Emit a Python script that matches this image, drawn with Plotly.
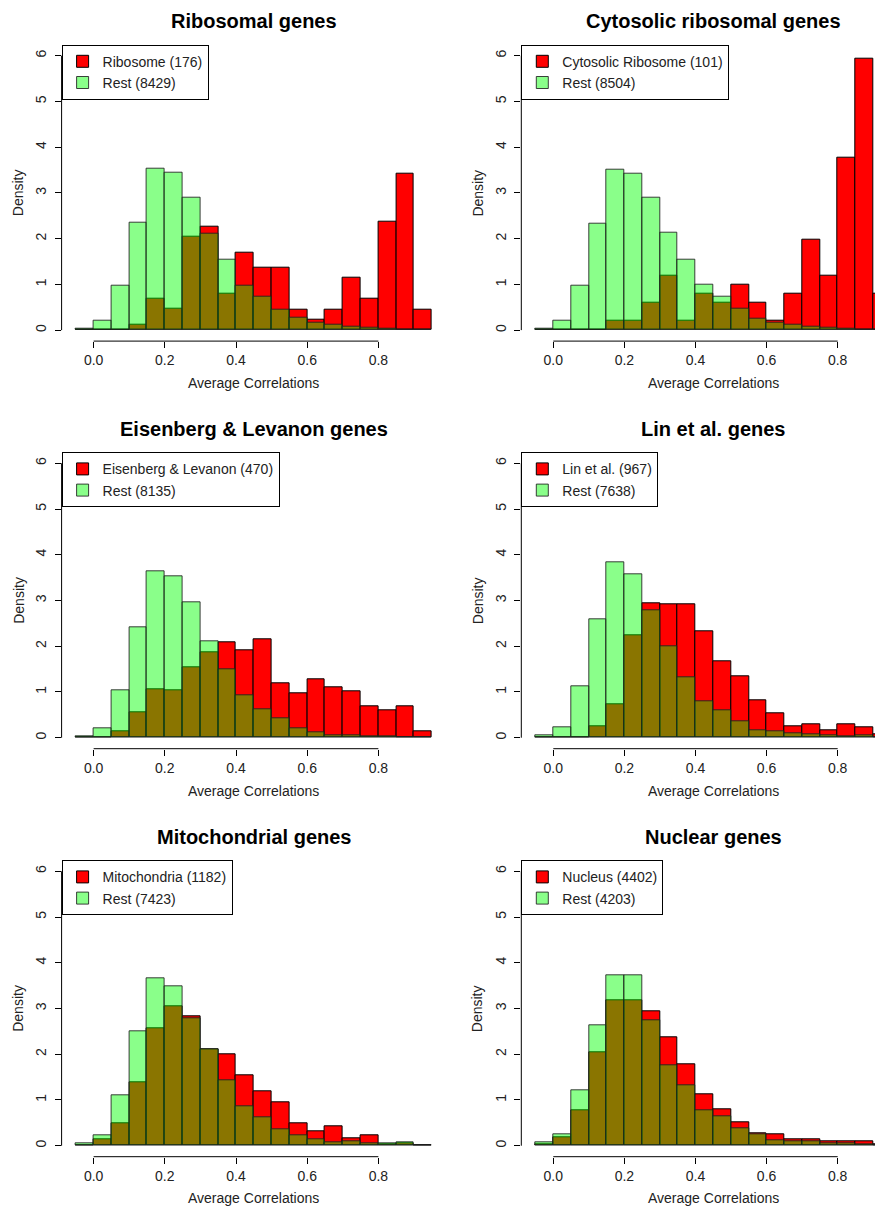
import plotly.graph_objects as go

# ---------------- data ----------------
bin_edges = [-0.05, 0.0, 0.05, 0.10, 0.15, 0.20, 0.25, 0.30, 0.35, 0.40, 0.45,
             0.50, 0.55, 0.60, 0.65, 0.70, 0.75, 0.80, 0.85, 0.90, 0.95]

titles = ["Ribosomal genes", "Cytosolic ribosomal genes",
          "Eisenberg & Levanon genes", "Lin et al. genes",
          "Mitochondrial genes", "Nuclear genes"]
group_labels = ["Ribosome (176)", "Cytosolic Ribosome (101)",
                "Eisenberg & Levanon (470)", "Lin et al. (967)",
                "Mitochondria (1182)", "Nucleus (4402)"]
rest_labels = ["Rest (8429)", "Rest (8504)", "Rest (8135)",
               "Rest (7638)", "Rest (7423)", "Rest (4203)"]

ribosome_density = [0, 0, 0, 0.11, 0.68, 0.46, 2.05, 2.27, 0.80, 1.70,
                    1.36, 1.36, 0.45, 0.23, 0.45, 1.14, 0.68, 2.38, 3.41, 0.45]
ribosome_rest = [0.04, 0.20, 0.97, 2.35, 3.53, 3.45, 2.89, 2.10, 1.54, 0.98,
                 0.73, 0.45, 0.27, 0.17, 0.12, 0.08, 0.05, 0.03, 0.015, 0.005]

cyto_density = [0, 0, 0, 0, 0.20, 0.20, 0.59, 1.19, 0.20, 0.79,
                0.59, 0.99, 0.59, 0.20, 0.79, 1.98, 1.19, 3.76, 5.94, 0.79]
cyto_rest = [0.04, 0.20, 0.97, 2.33, 3.51, 3.43, 2.89, 2.12, 1.55, 1.00,
             0.74, 0.47, 0.26, 0.17, 0.11, 0.07, 0.05, 0.03, 0.015, 0.01]

el_density = [0, 0, 0.13, 0.55, 1.06, 1.03, 1.54, 1.87, 2.08, 1.92,
              2.16, 1.19, 0.98, 1.27, 1.11, 1.02, 0.68, 0.60, 0.68, 0.13]
el_rest = [0.04, 0.20, 1.03, 2.41, 3.63, 3.53, 2.95, 2.11, 1.49, 0.93,
           0.63, 0.42, 0.21, 0.12, 0.06, 0.045, 0.03, 0.025, 0.02, 0.01]

lin_density = [0, 0, 0, 0.25, 0.72, 2.23, 2.94, 2.91, 2.91, 2.32,
               1.68, 1.34, 0.81, 0.54, 0.25, 0.29, 0.17, 0.29, 0.23, 0.08]
lin_rest = [0.05, 0.23, 1.12, 2.59, 3.83, 3.58, 2.79, 2.00, 1.32, 0.79,
            0.60, 0.35, 0.17, 0.13, 0.09, 0.07, 0.05, 0.035, 0.05, 0.02]

mito_density = [0, 0.14, 0.50, 1.38, 2.56, 3.04, 2.83, 2.10, 2.00, 1.54,
                1.18, 0.94, 0.50, 0.31, 0.43, 0.17, 0.22, 0.04, 0.06, 0.02]
mito_rest = [0.05, 0.23, 1.10, 2.50, 3.65, 3.49, 2.79, 2.10, 1.42, 0.87,
             0.63, 0.37, 0.22, 0.15, 0.07, 0.09, 0.05, 0.05, 0.08, 0.02]

nucleus_density = [0.03, 0.18, 0.78, 2.05, 3.19, 3.17, 2.93, 2.36, 1.78, 1.13,
                   0.79, 0.51, 0.28, 0.24, 0.13, 0.13, 0.09, 0.09, 0.10, 0.03]
nucleus_rest = [0.07, 0.25, 1.22, 2.64, 3.73, 3.73, 2.75, 1.76, 1.33, 0.78,
                0.64, 0.39, 0.25, 0.12, 0.10, 0.10, 0.05, 0.05, 0.04, 0.02]

group_series = [ribosome_density, cyto_density, el_density,
                lin_density, mito_density, nucleus_density]
rest_series = [ribosome_rest, cyto_rest, el_rest,
               lin_rest, mito_rest, nucleus_rest]

y_ticks = [0, 1, 2, 3, 4, 5, 6]
x_ticks = [0.0, 0.2, 0.4, 0.6, 0.8]
x_ticklabels = ["0.0", "0.2", "0.4", "0.6", "0.8"]

# ---------------- layout geometry (page pixels) ----------------
PAGE_W, PAGE_H = 883, 1207
OFF = 8                      # default body margin of the html page
W, H = PAGE_W - OFF, PAGE_H - OFF
FONT = "Liberation Sans, Arial, Helvetica, sans-serif"
col_left = [61.6, 521.3]          # plot region left edges
col_right = [446.0, 883.0]        # visible right edges
col_xrange = [[-0.09, 0.99], [-0.09, 0.9275]]
col_center = [253.8, 713.0]       # centre of full plot region
col_ylab = [18.3, 477.7]
row_top = [44.7, 452.3, 860.3]
row_h = 296.4

centers = [(bin_edges[i] + bin_edges[i + 1]) / 2 for i in range(len(bin_edges) - 1)]
widths = [bin_edges[i + 1] - bin_edges[i] for i in range(len(bin_edges) - 1)]


def px(p):
    return (p - OFF) / W


def py(p):
    return 1 - (p - OFF) / H


fig = go.Figure()
layout = dict(
    width=W, height=H,
    margin=dict(l=0, r=0, t=0, b=0),
    paper_bgcolor="white", plot_bgcolor="white",
    barmode="overlay", bargap=0,
    font=dict(family=FONT, size=14, color="black"),
    showlegend=True,
)
shapes = []
annotations = []

for i in range(6):
    r, c = divmod(i, 2)
    s = "" if i == 0 else str(i + 1)
    xa, ya = "x" + s, "y" + s
    top = row_top[r]
    bot = top + row_h
    leg = "legend" if i == 0 else "legend" + str(i + 1)

    fig.add_trace(go.Bar(
        x=centers, y=group_series[i], width=widths,
        marker=dict(color="rgb(255,0,0)", line=dict(color="black", width=1)),
        name=group_labels[i], xaxis=xa, yaxis=ya, legend=leg,
        hoverinfo="x+y",
    ))
    fig.add_trace(go.Bar(
        x=centers, y=rest_series[i], width=widths,
        marker=dict(color="rgba(0,255,0,0.46)",
                    line=dict(color="rgba(30,30,30,0.85)", width=1)),
        name=rest_labels[i], xaxis=xa, yaxis=ya, legend=leg,
        hoverinfo="x+y",
    ))

    layout["xaxis" + s] = dict(
        domain=[px(col_left[c]), min(1.0, px(col_right[c]))],
        range=col_xrange[c], anchor=ya,
        showgrid=False, zeroline=False, showline=False,
        ticks="outside", ticklen=6, tickwidth=1, tickcolor="black",
        tickvals=x_ticks, ticktext=x_ticklabels,
        tickfont=dict(family=FONT, size=14, color="#222"),
        ticklabelstandoff=0,
        fixedrange=True,
    )
    layout["yaxis" + s] = dict(
        domain=[py(bot), py(top)],
        range=[-0.24, 6.24], anchor=xa,
        showgrid=False, zeroline=False, showline=False,
        ticks="outside", ticklen=6, tickwidth=1, tickcolor="black",
        tickvals=y_ticks, ticktext=[str(v) for v in y_ticks],
        tickangle=-90,
        tickfont=dict(family=FONT, size=14, color="#222"),
        ticklabelstandoff=3,
        fixedrange=True,
    )
    # R style axis lines spanning only the tick range
    shapes.append(dict(type="line", xref=xa + " domain", yref=ya,
                       x0=0, x1=0, y0=0, y1=6,
                       line=dict(color="black", width=1), layer="above"))
    shapes.append(dict(type="line", xref=xa, yref=ya + " domain",
                       x0=0, x1=0.8, y0=0, y1=0,
                       line=dict(color="black", width=1), layer="above"))

    annotations.append(dict(text="<b>" + titles[i].replace("&", "&amp;") + "</b>",
                            xref="paper", yref="paper",
                            x=px(col_center[c]), y=py(top - 23.7),
                            xanchor="center", yanchor="middle", showarrow=False,
                            font=dict(family=FONT, size=20, color="black")))
    annotations.append(dict(text="Average Correlations",
                            xref="paper", yref="paper",
                            x=px(col_center[c]), y=py(bot + 41.8),
                            xanchor="center", yanchor="middle", showarrow=False,
                            font=dict(family=FONT, size=14, color="#222")))
    annotations.append(dict(text="Density", textangle=-90,
                            xref="paper", yref="paper",
                            x=px(col_ylab[c]), y=py((top + bot) / 2),
                            xanchor="center", yanchor="middle", showarrow=False,
                            font=dict(family=FONT, size=14, color="#222")))

    layout[leg] = dict(
        x=px(col_left[c]), y=py(top), xanchor="left", yanchor="top",
        bgcolor="white", bordercolor="black", borderwidth=1,
        font=dict(family=FONT, size=14, color="#222"),
        traceorder="normal", tracegroupgap=0, itemclick=False,
        itemdoubleclick=False, itemwidth=30,
    )

layout["shapes"] = shapes
layout["annotations"] = annotations
fig.update_layout(**layout)

fig.write_html("out.html")
